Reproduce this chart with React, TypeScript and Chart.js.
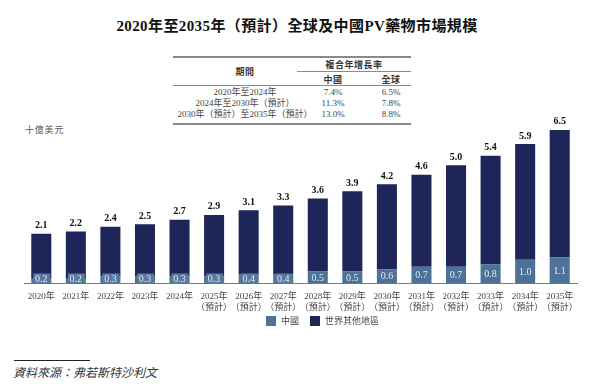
import React, { useEffect, useRef } from "react";
import { Chart, registerables } from "chart.js";

Chart.register(...registerables);

const years = ["2020年", "2021年", "2022年", "2023年", "2024年", "2025年", "2026年", "2027年", "2028年", "2029年", "2030年", "2031年", "2032年", "2033年", "2034年", "2035年"];
const forecastFlags = [false, false, false, false, false, true, true, true, true, true, true, true, true, true, true, true];
const totals = [2.1, 2.2, 2.4, 2.5, 2.7, 2.9, 3.1, 3.3, 3.6, 3.9, 4.2, 4.6, 5.0, 5.4, 5.9, 6.5];
const chinaValues = [0.2, 0.2, 0.3, 0.3, 0.3, 0.3, 0.4, 0.4, 0.5, 0.5, 0.6, 0.7, 0.7, 0.8, 1.0, 1.1];
const restValues = [1.9, 2.0, 2.1, 2.2, 2.4, 2.6, 2.7, 2.9, 3.1, 3.4, 3.6, 3.9, 4.3, 4.6, 4.9, 5.4];

const tablePeriods = ["2020年至2024年", "2024年至2030年（預計）", "2030年（預計）至2035年（預計）"];
const tableChina = ["7.4%", "11.3%", "13.0%"];
const tableGlobal = ["6.5%", "7.8%", "8.8%"];

const seriesNames = ["中國", "世界其他地區"];

const CHINA_COLOR = "#4e7197";
const REST_COLOR = "#1e2559";
const SERIF = "'Liberation Serif', 'Noto Sans CJK TC', serif";
const SANS = "'Noto Sans CJK TC', 'Noto Sans', sans-serif";

const labelPlugin = {
  id: "barLabels",
  afterDatasetsDraw(chart: any) {
    const ctx = chart.ctx;
    const metaChina = chart.getDatasetMeta(0);
    const metaRest = chart.getDatasetMeta(1);
    ctx.save();
    metaChina.data.forEach((bar: any, i: number) => {
      const x = bar.x;
      const base = bar.base;
      const top = bar.y;
      const w = bar.width;
      const h = base - top;
      const boxH = 10;
      let cy;
      if (h >= boxH + 1) {
        cy = (top + base) / 2;
      } else {
        cy = base - boxH / 2;
        ctx.fillStyle = "#58799d";
        ctx.fillRect(x - w / 2 + 2, base - boxH, w - 3, boxH);
      }
      ctx.fillStyle = "#e4e9f1";
      ctx.font = `10px ${SERIF}`;
      ctx.textAlign = "center";
      ctx.textBaseline = "middle";
      ctx.fillText(chinaValues[i].toFixed(1), x, cy + 0.5);
    });
    metaRest.data.forEach((bar: any, i: number) => {
      ctx.fillStyle = "#111111";
      ctx.font = `bold 10px ${SERIF}`;
      ctx.textAlign = "center";
      ctx.textBaseline = "bottom";
      ctx.fillText(totals[i].toFixed(1), bar.x, bar.y - 3);
    });
    ctx.restore();
  },
};

function T({ x, y, children, style }: any) {
  return (
    <div
      style={{
        position: "absolute",
        left: x,
        top: y,
        transform: "translate(-50%, -50%)",
        whiteSpace: "nowrap",
        lineHeight: 1,
        ...style,
      }}
    >
      {children}
    </div>
  );
}

function Rule({ x1, x2, y, w = 1, color = "#8a8a8a" }: any) {
  return <div style={{ position: "absolute", left: x1, top: y, width: x2 - x1, height: w, background: color }} />;
}

export default function App() {
  const canvasRef = useRef<HTMLCanvasElement | null>(null);

  useEffect(() => {
    document.body.style.margin = "0";
    const labels = years.map((y, i) => (forecastFlags[i] ? [y, "（預計）"] : y));
    const chart = new Chart(canvasRef.current as HTMLCanvasElement, {
      type: "bar",
      data: {
        labels,
        datasets: [
          {
            label: seriesNames[0],
            data: chinaValues,
            backgroundColor: CHINA_COLOR,
            categoryPercentage: 1,
            barPercentage: 0.58,
          },
          {
            label: seriesNames[1],
            data: restValues,
            backgroundColor: REST_COLOR,
            categoryPercentage: 1,
            barPercentage: 0.58,
          },
        ],
      },
      options: {
        animation: false,
        responsive: false,
        maintainAspectRatio: false,
        layout: { padding: { left: 24, right: 17, top: 0, bottom: 0 } },
        scales: {
          x: {
            stacked: true,
            grid: { display: false, drawTicks: false },
            border: { display: true, color: "#7a7a7a", width: 1 },
            ticks: {
              color: "#444444",
              font: { family: SERIF, size: 9, lineHeight: 1.2 },
              padding: 8,
              maxRotation: 0,
              autoSkip: false,
            },
          },
          y: {
            stacked: true,
            display: false,
            min: 0,
            max: 7.3,
          },
        },
        plugins: {
          legend: { display: false },
          tooltip: { enabled: false },
        },
      },
      plugins: [labelPlugin],
    });
    return () => chart.destroy();
  }, []);

  const legendText = { fontFamily: SERIF, fontSize: 9, color: "#444" };

  return (
    <div style={{ position: "relative", width: 594, height: 392, background: "#ffffff", overflow: "hidden", fontFamily: SERIF }}>
      <T x={297} y={26} style={{ fontFamily: SERIF, fontWeight: "bold", fontSize: 15, color: "#111", letterSpacing: 0.4 }}>
        2020年至2035年（預計）全球及中國PV藥物市場規模
      </T>

      <Rule x1={173} x2={411} y={56} w={1.5} />
      <Rule x1={297} x2={411} y={71} />
      <Rule x1={173} x2={411} y={85} />
      <Rule x1={173} x2={411} y={123} w={1.5} />
      <T x={245} y={71} style={{ fontFamily: SANS, fontWeight: "bold", fontSize: 9, color: "#333", letterSpacing: 0.5 }}>期間</T>
      <T x={354} y={64} style={{ fontFamily: SANS, fontWeight: "bold", fontSize: 9, color: "#333", letterSpacing: 0.5 }}>複合年增長率</T>
      <T x={333} y={78.5} style={{ fontFamily: SANS, fontWeight: "bold", fontSize: 9, color: "#333", letterSpacing: 0.5 }}>中國</T>
      <T x={391} y={78.5} style={{ fontFamily: SANS, fontWeight: "bold", fontSize: 9, color: "#333", letterSpacing: 0.5 }}>全球</T>
      {tablePeriods.map((p, i) => (
        <React.Fragment key={p}>
          <T x={245} y={92 + i * 11} style={{ fontSize: 9, color: "#444" }}>{p}</T>
          <T x={333} y={92 + i * 11} style={{ fontSize: 9, color: "#444" }}>{tableChina[i]}</T>
          <T x={391} y={92 + i * 11} style={{ fontSize: 9, color: "#444" }}>{tableGlobal[i]}</T>
        </React.Fragment>
      ))}

      <div style={{ position: "absolute", left: 25, top: 126, fontFamily: SERIF, fontSize: 9, color: "#555", letterSpacing: 0.8, whiteSpace: "nowrap", lineHeight: 1 }}>
        十億美元
      </div>

      <canvas ref={canvasRef} width={594} height={210} style={{ position: "absolute", left: 0, top: 111, width: 594, height: 210 }} />

      <div style={{ position: "absolute", left: 266, top: 316, width: 10, height: 10, background: CHINA_COLOR }} />
      <div style={{ position: "absolute", left: 281, top: 316, lineHeight: "10px", whiteSpace: "nowrap", ...legendText }}>{seriesNames[0]}</div>
      <div style={{ position: "absolute", left: 310, top: 316, width: 10, height: 10, background: REST_COLOR }} />
      <div style={{ position: "absolute", left: 325, top: 316, lineHeight: "10px", whiteSpace: "nowrap", ...legendText }}>{seriesNames[1]}</div>

      <Rule x1={14} x2={90} y={360} w={1} color="#222" />
      <div style={{ position: "absolute", left: 13, top: 367, fontFamily: SERIF, fontStyle: "italic", fontSize: 12, color: "#333", whiteSpace: "nowrap", lineHeight: 1 }}>
        資料來源：弗若斯特沙利文
      </div>
    </div>
  );
}
